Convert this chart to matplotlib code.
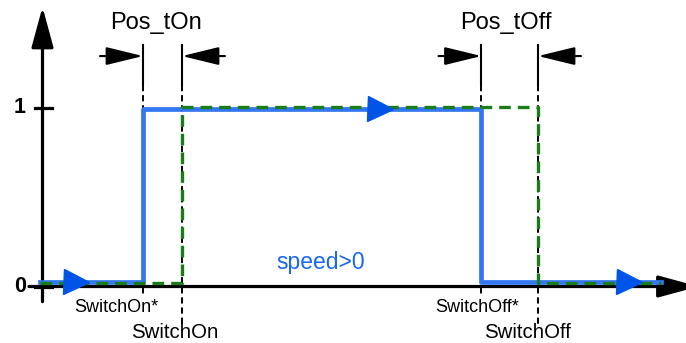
import matplotlib.pyplot as plt
from matplotlib.transforms import Affine2D

plt.rcParams['font.family'] = ['Liberation Sans', 'DejaVu Sans']

# switching instants (arbitrary time units, y axis at t = 0)
switch_on_star = 1.005
switch_on = 1.395
switch_off_star = 4.39
switch_off = 4.955
t_start = -0.025
t_end = 6.18

# actual output (blue) and delayed output (green)
blue_t = [t_start, switch_on_star, switch_off_star, t_end]
blue_level = [0, 1, 0, 0]
green_t = [t_start, switch_on, switch_off, t_end]
green_level = [0, 1, 0, 0]

# direction markers on the blue trace
marker_t = [0.33, 3.37, 5.86]
marker_level = [0, 1, 0]

level_ticks = [0, 1]
level_labels = ['0', '1']

BLUE = '#3377f2'
BLUE_DARK = '#0055e8'
GREEN = '#1a7d1a'

fig = plt.figure(figsize=(6.86, 3.43), dpi=100)
ax = fig.add_axes([0, 0, 1, 1])
ax.set_xlim(-0.425, 6.435)
ax.set_ylim(-0.3165, 1.605)
ax.axis('off')

# axes with arrow heads
axis_kw = dict(arrowstyle='-|>,head_length=25,head_width=6.8', mutation_scale=1,
               color='black', lw=2.3, shrinkA=0, shrinkB=0)
ax.annotate('', xy=(0, 1.566), xytext=(0, -0.085), arrowprops=axis_kw,
            annotation_clip=False)
ax.annotate('', xy=(6.56, 0), xytext=(-0.135, 0), arrowprops=axis_kw,
            annotation_clip=False)
for lv, lab in zip(level_ticks, level_labels):
    ax.plot([-0.075, 0.095], [lv, lv], color='black', lw=2.3)
    ax.text(-0.225, lv, lab, ha='center', va='center', fontsize=15.5,
            fontweight='bold')

# signals, slightly shifted so both stay visible
blue_tf = Affine2D().scale(1, 0.966).translate(0, 0.028) + ax.transData
green_tf = Affine2D().scale(1, 0.986).translate(0, 0.0196) + ax.transData
ax.step(blue_t, blue_level, where='post', color=BLUE, lw=3.4,
        transform=blue_tf, zorder=3)
ax.step(green_t, green_level, where='post', color=GREEN, lw=2.4,
        dashes=(3.5, 2.1), transform=green_tf, zorder=4)
ax.plot(marker_t, marker_level, ls='none', marker='>', markersize=18,
        color=BLUE_DARK, transform=blue_tf, zorder=5)

# reference lines at the switching instants
for t, bottom in [(switch_on_star, -0.048), (switch_on, -0.216),
                  (switch_off_star, -0.048), (switch_off, -0.216)]:
    ax.plot([t, t], [1.353, 1.129], color='black', lw=1.5, zorder=2)
    ax.plot([t, t], [1.129, bottom], color='black', lw=1.4,
            dashes=(3.2, 2.0), zorder=2)

# dimension arrows for the delays
dim_kw = dict(arrowstyle='-|>,head_length=23,head_width=5.6', mutation_scale=1,
              color='black', lw=1.5, shrinkA=0, shrinkB=0)
tail = 0.43
for t0, t1 in [(switch_on_star, switch_on), (switch_off_star, switch_off)]:
    ax.annotate('', xy=(t0, 1.291), xytext=(t0 - tail, 1.291), arrowprops=dim_kw)
    ax.annotate('', xy=(t1, 1.291), xytext=(t1 + tail, 1.291), arrowprops=dim_kw)

ax.text((switch_on_star + switch_on) / 2 - 0.065, 1.476, 'Pos_tOn',
        ha='center', va='center', fontsize=17)
ax.text((switch_off_star + switch_off) / 2 - 0.035, 1.476, 'Pos_tOff',
        ha='center', va='center', fontsize=17)

ax.text(0.742, -0.12, 'SwitchOn*', ha='center', va='center', fontsize=13)
ax.text(1.325, -0.255, 'SwitchOn', ha='center', va='center', fontsize=14.7)
ax.text(4.342, -0.12, 'SwitchOff*', ha='center', va='center', fontsize=13)
ax.text(4.85, -0.255, 'SwitchOff', ha='center', va='center', fontsize=14.7)
ax.text(2.785, 0.137, 'speed>0', ha='center', va='center', fontsize=16.5,
        color='#1a66f0')

fig.savefig('out.png', dpi=100)
